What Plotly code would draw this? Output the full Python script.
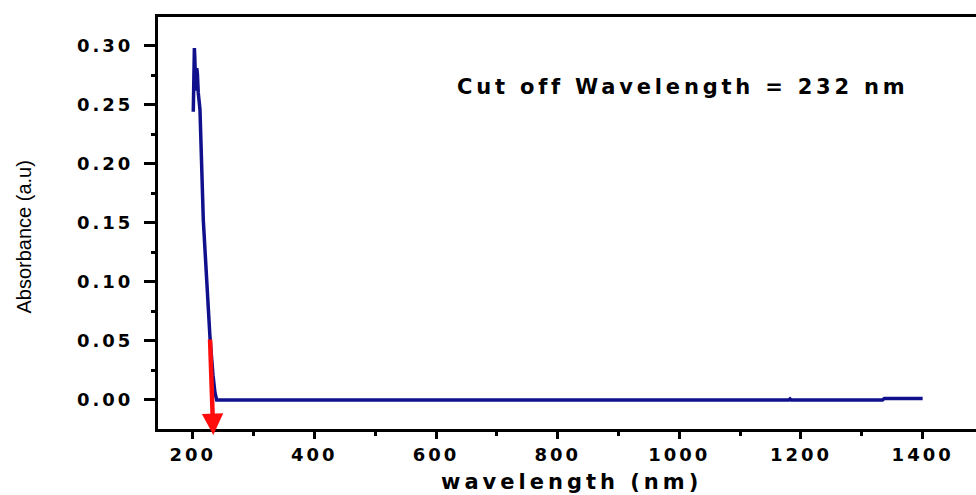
import plotly.graph_objects as go

# UV-Vis absorbance spectrum
wavelength = [201.0, 202.0, 202.8, 203.5, 204.5, 205.5, 206.8, 207.8, 209.2, 212.0,
              217.5, 223.0, 228.5, 233.4, 236.7, 239.5, 245.0, 300.0, 400.0, 500.0,
              600.0, 700.0, 800.0, 900.0, 1000.0, 1100.0, 1180.0, 1182.0, 1184.0,
              1250.0, 1334.0, 1337.0, 1400.0]
absorbance = [0.244, 0.272, 0.298, 0.290, 0.272, 0.262, 0.281, 0.276, 0.260, 0.246,
              0.152, 0.102, 0.0525, 0.021, 0.006, 0.0, 0.0, 0.0, 0.0, 0.0,
              0.0, 0.0, 0.0, 0.0, 0.0, 0.0, 0.0, 0.0009, 0.0,
              0.0, 0.0, 0.0013, 0.0013]

# cut-off marker arrow (tail -> head)
cutoff_arrow_x = [228.5, 233.9]
cutoff_arrow_y = [0.0525, -0.0296]

x_tick_values = [200, 400, 600, 800, 1000, 1200, 1400]
x_minor_values = [300, 500, 700, 900, 1100, 1300]
y_tick_values = [0.00, 0.05, 0.10, 0.15, 0.20, 0.25, 0.30]
y_tick_labels = ["0.00", "0.05", "0.10", "0.15", "0.20", "0.25", "0.30"]
y_minor_values = [0.025, 0.075, 0.125, 0.175, 0.225, 0.275]

annotation_text = "Cut off Wavelength = 232 nm"
x_title = "wavelength (nm)"
y_title = "Absorbance (a.u)"

BOLD_FONT = "DejaVu Sans, Verdana, sans-serif"


def spaced(text, px):
    return f'<span style="letter-spacing:{px}px">{text}</span>'


fig = go.Figure()
fig.add_trace(go.Scatter(
    x=wavelength, y=absorbance, mode="lines",
    line=dict(color="#10108c", width=3.5),
    showlegend=False, hoverinfo="skip",
))

fig.add_annotation(
    x=cutoff_arrow_x[1], y=cutoff_arrow_y[1],
    ax=cutoff_arrow_x[0], ay=cutoff_arrow_y[0],
    xref="x", yref="y", axref="x", ayref="y",
    text="", showarrow=True,
    arrowcolor="#ff0d0d", arrowwidth=4.5, arrowhead=2, arrowsize=0.95,
)

fig.add_annotation(
    xref="paper", yref="paper", x=0.3631, y=0.8313,
    xanchor="left", yanchor="middle", showarrow=False,
    text=spaced(annotation_text, 3.8),
    font=dict(family=BOLD_FONT, size=21, color="black", weight="bold"),
)

fig.add_annotation(
    xref="paper", yref="paper", x=0.506, y=-0.128,
    xanchor="center", yanchor="middle", showarrow=False,
    text=spaced(x_title, 4),
    font=dict(family=BOLD_FONT, size=21, color="black", weight="bold"),
)

fig.add_annotation(
    xref="paper", yref="paper", x=-0.165, y=0.4648,
    xanchor="center", yanchor="middle", showarrow=False, textangle=-90,
    text=y_title,
    font=dict(family="Liberation Sans, Arial, sans-serif", size=20, color="black"),
)

fig.update_xaxes(
    range=[143.0, 1487.7],
    tickvals=x_tick_values,
    ticktext=[spaced(str(v), 3) for v in x_tick_values],
    ticks="outside", ticklen=7, tickwidth=3, tickcolor="black",
    minor=dict(tickvals=x_minor_values, ticks="outside", ticklen=4,
               tickwidth=3, tickcolor="black"),
    showline=True, linewidth=3, linecolor="black", mirror=True,
    showgrid=False, zeroline=False,
    tickfont=dict(family=BOLD_FONT, size=18, color="black", weight="bold"),
)

fig.update_yaxes(
    range=[-0.02456, 0.3243],
    tickvals=y_tick_values,
    ticktext=[spaced(t, 3) for t in y_tick_labels],
    ticks="outside", ticklen=11, tickwidth=3, tickcolor="black",
    minor=dict(tickvals=y_minor_values, ticks="outside", ticklen=4,
               tickwidth=3, tickcolor="black"),
    showline=True, linewidth=3, linecolor="black", mirror=False,
    showgrid=False, zeroline=False, ticklabelstandoff=7,
    tickfont=dict(family=BOLD_FONT, size=18, color="black", weight="bold"),
)

fig.update_layout(
    width=976, height=495,
    margin=dict(l=158, r=0, t=17, b=66),
    paper_bgcolor="white", plot_bgcolor="white",
)

fig.write_html("out.html")
